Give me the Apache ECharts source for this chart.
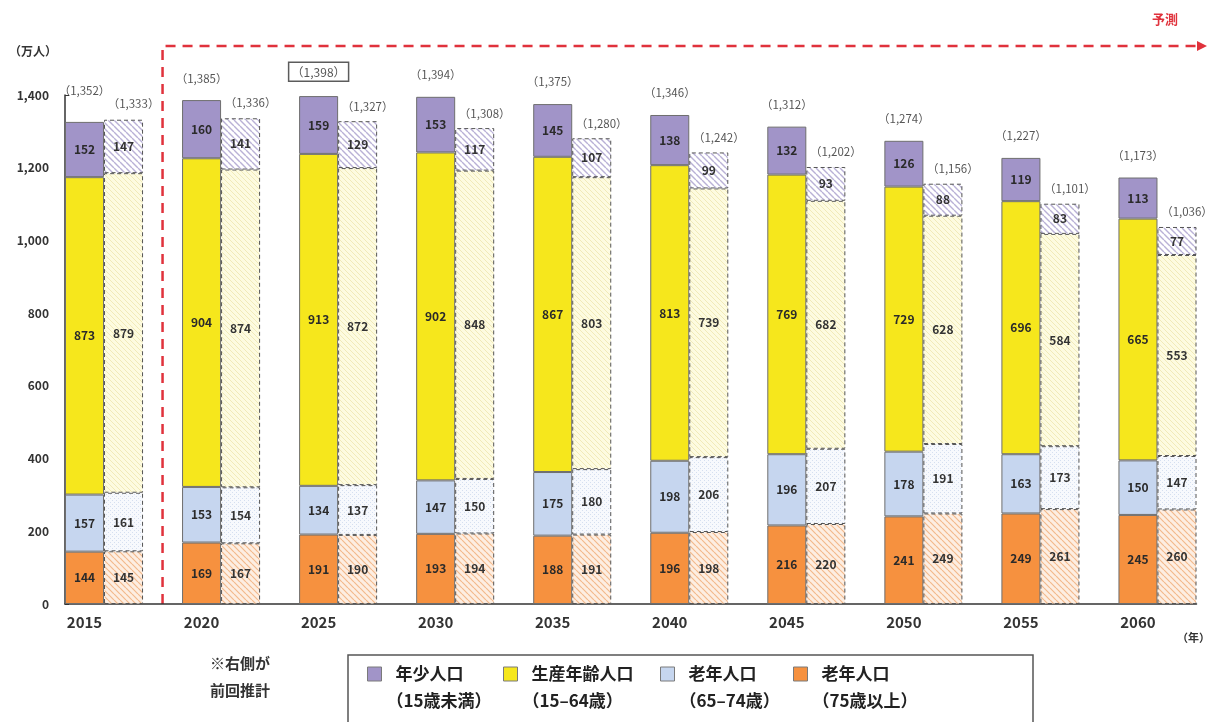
<!DOCTYPE html>
<html>
<head>
<meta charset="utf-8">
<script src="https://cdn.jsdelivr.net/npm/echarts@6/dist/echarts.min.js"></script>
<style>
  html, body { margin: 0; padding: 0; background: #ffffff; }
  #chart { width: 1215px; height: 722px; }
</style>
</head>
<body>
<div id="chart"></div>
<script>
// 年次
const years = [2015, 2020, 2025, 2030, 2035, 2040, 2045, 2050, 2055, 2060];

// 今回推計（万人）
const over75 = [144, 169, 191, 193, 188, 196, 216, 241, 249, 245];
const age65to74 = [157, 153, 134, 147, 175, 198, 196, 178, 163, 150];
const age15to64 = [873, 904, 913, 902, 867, 813, 769, 729, 696, 665];
const under15 = [152, 160, 159, 153, 145, 138, 132, 126, 119, 113];
const totals = [1352, 1385, 1398, 1394, 1375, 1346, 1312, 1274, 1227, 1173];

// 前回推計（万人）
const prevOver75 = [145, 167, 190, 194, 191, 198, 220, 249, 261, 260];
const prevAge65to74 = [161, 154, 137, 150, 180, 206, 207, 191, 173, 147];
const prevAge15to64 = [879, 874, 872, 848, 803, 739, 682, 628, 584, 553];
const prevUnder15 = [147, 141, 129, 117, 107, 99, 93, 88, 83, 77];
const prevTotals = [1333, 1336, 1327, 1308, 1280, 1242, 1202, 1156, 1101, 1036];

// 区分名
const groupNames = ['老年人口（75歳以上）', '老年人口（65–74歳）', '生産年齢人口（15–64歳）', '年少人口（15歳未満）'];
const legendOrder = ['年少人口（15歳未満）', '生産年齢人口（15–64歳）', '老年人口（65–74歳）', '老年人口（75歳以上）'];

// 縦軸
const yMin = 0, yMax = 1400, yStep = 200;
const peakYear = 2025;

const FONT = '"Noto Sans CJK JP", "Noto Sans", sans-serif';
// 前回推計の棒は今回推計の右隣（棒1本分＝5/3年）に置く
const PREV_SHIFT = 5 / 3;
const HALF_BAR = PREV_SHIFT / 2;

// 斜線・点の塗りパターン
function hatch(bg, line, step, width) {
  const c = document.createElement('canvas');
  c.width = c.height = step;
  const g = c.getContext('2d');
  g.fillStyle = bg;
  g.fillRect(0, 0, step, step);
  g.strokeStyle = line;
  g.lineWidth = width;
  g.beginPath();
  for (const k of [-step, 0, step]) {
    g.moveTo(k, 0);
    g.lineTo(k + step, step);
  }
  g.stroke();
  return { image: c, repeat: 'repeat' };
}
function dots(bg, dot, step) {
  const c = document.createElement('canvas');
  c.width = c.height = step;
  const g = c.getContext('2d');
  g.fillStyle = bg;
  g.fillRect(0, 0, step, step);
  g.fillStyle = dot;
  g.fillRect(0, 0, 1, 1);
  g.fillRect(step / 2, step / 2, 1, 1);
  return { image: c, repeat: 'repeat' };
}

const curColors = ['#f6913f', '#c6d6ef', '#f6e71c', '#a194c8'];
const prevFills = [
  hatch('#fdeee2', '#f3b98c', 6, 1.2),
  dots('#f7f9fd', '#d5dff0', 4),
  hatch('#fdfbe0', '#f1eab8', 5, 1),
  hatch('#ffffff', '#b9b1d6', 6, 1.4)
];
const curValues = [over75, age65to74, age15to64, under15];
const prevValues = [prevOver75, prevAge65to74, prevAge15to64, prevUnder15];

// 各点は [人口, 年] の順に持たせ、人口の次元で積み上げる
const series = [];
curValues.forEach((vals, k) => {
  series.push({
    name: groupNames[k],
    type: 'bar',
    stack: 'current',
    barWidth: '100%',
    barGap: '-100%',
    encode: { x: 1, y: 0 },
    data: years.map((y, i) => [vals[i], y]),
    itemStyle: { color: curColors[k], borderColor: '#6e6e6e', borderWidth: 1 },
    label: {
      show: true, position: 'inside', color: '#2a2a2a',
      fontSize: 12, fontWeight: 'bold', fontFamily: FONT,
      formatter: p => p.value[0]
    },
    emphasis: { disabled: true }
  });
});
prevValues.forEach((vals, k) => {
  series.push({
    name: groupNames[k] + '・前回推計',
    type: 'bar',
    stack: 'previous',
    barWidth: '100%',
    barGap: '-100%',
    encode: { x: 1, y: 0 },
    data: years.map((y, i) => [vals[i], y + PREV_SHIFT]),
    itemStyle: { color: prevFills[k], borderColor: '#555555', borderWidth: 1, borderType: [4, 3] },
    label: {
      show: true, position: 'inside', color: '#333333',
      fontSize: 12, fontWeight: 'bold', fontFamily: FONT,
      formatter: p => p.value[0]
    },
    emphasis: { disabled: true }
  });
});

const fmtTotal = v => '（' + v.toLocaleString('en-US') + '）';
// 合計値（今回）
series.push({
  type: 'scatter', silent: true, symbolSize: 1,
  itemStyle: { color: 'rgba(0,0,0,0)' },
  data: years.map((y, i) => {
    const item = { value: [y, totals[i]] };
    if (y === peakYear) {
      item.label = { borderColor: '#333', borderWidth: 1.5, padding: [4, 3, 3, 3], fontSize: 12, distance: 14 };
    }
    return item;
  }),
  label: {
    show: true, position: 'top', distance: 16,
    fontSize: 11.5, color: '#2a2a2a', fontFamily: FONT,
    formatter: p => fmtTotal(p.value[1])
  }
});
// 合計値（前回）
series.push({
  type: 'scatter', silent: true, symbolSize: 1,
  itemStyle: { color: 'rgba(0,0,0,0)' },
  data: years.map((y, i) => [y + PREV_SHIFT, prevTotals[i]]),
  label: {
    show: true, position: 'top', distance: 9, offset: [10, 0],
    fontSize: 11.5, color: '#2a2a2a', fontFamily: FONT,
    formatter: p => fmtTotal(p.value[1])
  }
});

const legendLeft = [367, 503, 660, 793];
const legends = legendOrder.map((n, i) => ({
  data: [n],
  left: legendLeft[i],
  top: 633.5,
  padding: 0,
  icon: 'rect',
  itemWidth: 14,
  itemHeight: 14,
  selectedMode: false,
  itemStyle: { borderColor: '#7a7a7a', borderWidth: 1 },
  formatter: name => {
    const k = name.indexOf('（');
    return '{t|' + name.slice(0, k) + '}\n{s|' + name.slice(k) + '}';
  },
  textStyle: {
    fontFamily: FONT, fontSize: 17, fontWeight: 'bold', color: '#222',
    lineHeight: 27, padding: [27, 0, 0, 0],
    rich: {
      t: { fontFamily: FONT, fontSize: 17, fontWeight: 'bold', color: '#222', lineHeight: 27, padding: [0, 0, 0, 9] },
      s: { fontFamily: FONT, fontSize: 17, fontWeight: 'bold', color: '#222', lineHeight: 27 }
    }
  }
}));

const chart = echarts.init(document.getElementById('chart'), null, { renderer: 'canvas' });
chart.setOption({
  animation: false,
  backgroundColor: '#ffffff',
  textStyle: { fontFamily: FONT },
  grid: { left: 65, right: 18.5, top: 95, bottom: 118 },
  xAxis: {
    type: 'value',
    min: years[0] - HALF_BAR,
    max: years[years.length - 1] + PREV_SHIFT + HALF_BAR,
    axisLine: { show: true, lineStyle: { color: '#333', width: 1.5 } },
    axisTick: { show: false },
    splitLine: { show: false },
    axisLabel: {
      customValues: years,
      formatter: v => String(Math.round(v)),
      fontSize: 15, fontWeight: 'bold', color: '#333', margin: 11, fontFamily: FONT
    },
    name: '（年）',
    nameLocation: 'end',
    nameGap: 0,
    nameTextStyle: { fontSize: 11, fontWeight: 'bold', color: '#333', align: 'center', verticalAlign: 'top', padding: [28, 6, 0, 0] }
  },
  yAxis: {
    type: 'value',
    min: yMin, max: yMax, interval: yStep,
    axisLine: { show: true, lineStyle: { color: '#333', width: 1.5 } },
    axisTick: { show: true, inside: true, length: 4, lineStyle: { color: '#333' } },
    splitLine: { show: false },
    axisLabel: {
      formatter: v => v.toLocaleString('en-US'),
      fontSize: 12, fontWeight: 'bold', color: '#333', margin: 16, fontFamily: FONT
    },
    name: '（万人）',
    nameLocation: 'end',
    nameGap: 38,
    nameTextStyle: { fontSize: 12, fontWeight: 'bold', color: '#333', align: 'right', padding: [0, 8, 0, 0] }
  },
  legend: legends,
  series: series
});

// 予測期間の破線矢印と凡例枠
const gapX = chart.convertToPixel({ xAxisIndex: 0 }, (years[0] + PREV_SHIFT + years[1]) / 2);
const baseY = chart.convertToPixel({ yAxisIndex: 0 }, 0);
const RED = '#e0323c';
chart.setOption({
  graphic: [
    {
      type: 'polyline', silent: true,
      shape: { points: [[gapX, baseY], [gapX, 46], [1197, 46]] },
      style: { stroke: RED, lineWidth: 2.5, lineDash: [10, 7], fill: null }
    },
    {
      type: 'polygon', silent: true,
      shape: { points: [[1197, 41], [1207, 46], [1197, 51]] },
      style: { fill: RED }
    },
    {
      type: 'text', silent: true,
      style: { text: '予測', x: 1165, y: 19, fill: RED, font: 'bold 13px ' + FONT, align: 'center', verticalAlign: 'middle' }
    },
    {
      type: 'rect', silent: true, z: -1,
      shape: { x: 348, y: 655, width: 685, height: 90 },
      style: { fill: '#ffffff', stroke: '#555', lineWidth: 1.5 }
    },
    {
      type: 'text', silent: true,
      style: {
        text: '※右側が\n前回推計', x: 270, y: 650, fill: '#333',
        font: 'bold 15px ' + FONT, align: 'right', verticalAlign: 'top', lineHeight: 27
      }
    }
  ]
});
</script>
</body>
</html>
